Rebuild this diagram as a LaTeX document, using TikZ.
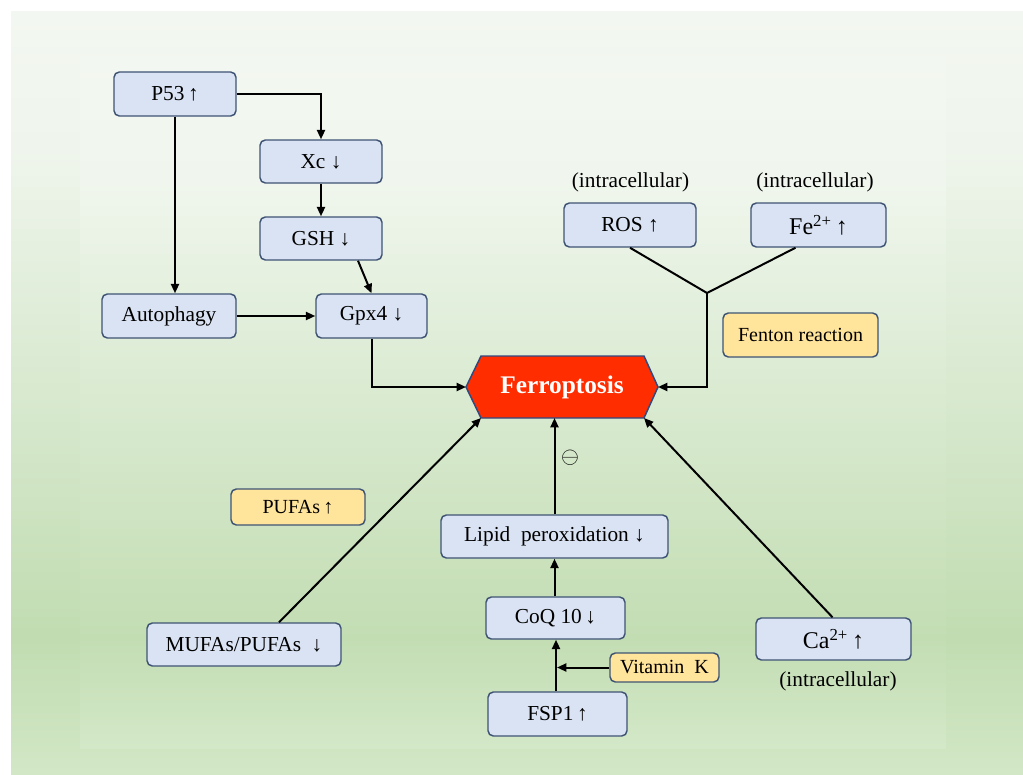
\documentclass[tikz,border=0pt]{standalone}
\usepackage{fontspec}
\setmainfont{Liberation Serif}
\usetikzlibrary{arrows.meta,calc}
\definecolor{boxfill}{HTML}{DAE3F3}
\definecolor{boxline}{HTML}{3F5475}
\definecolor{yel}{HTML}{FFE49B}
\definecolor{ferro}{HTML}{FF2D00}
\definecolor{ferroline}{HTML}{2F4A80}
\definecolor{bgA}{HTML}{D2E7C6}
\definecolor{bgB}{HTML}{C1DCB1}
\definecolor{bgC}{HTML}{D8E9CF}
\definecolor{bgD}{HTML}{EFF5EC}
\definecolor{bgE}{HTML}{F3F7F1}
\definecolor{inA}{HTML}{D3E8C8}
\definecolor{inB}{HTML}{C3DDB3}
\definecolor{inC}{HTML}{D9EAD0}
\definecolor{inD}{HTML}{F0F6ED}
\definecolor{inE}{HTML}{F3F7F1}
\pgfdeclareverticalshading{outerbg}{100bp}{color(0bp)=(bgA); color(25bp)=(bgA); color(34bp)=(bgB); color(50bp)=(bgC); color(66bp)=(bgD); color(75bp)=(bgE); color(100bp)=(bgE)}
\pgfdeclareverticalshading{innerbg}{100bp}{color(0bp)=(inA); color(25bp)=(inA); color(33bp)=(inB); color(50bp)=(inC); color(66bp)=(inD); color(75bp)=(inE); color(100bp)=(inE)}
\begin{document}
\begin{tikzpicture}[x=0.75pt,y=-0.75pt,
  box/.style={draw=boxline, line width=1.1pt, rounded corners=4pt, fill=boxfill, inner sep=0pt, font=\fontsize{16}{19}\selectfont},
  ybox/.style={box, fill=yel, font=\fontsize{15}{18}\selectfont},
  arr/.style={line width=1.5pt, -{Triangle[length=7pt,width=6pt]}},
  ln/.style={line width=1.5pt},
  lbl/.style={font=\fontsize{16}{19}\selectfont, inner sep=0pt}]
\useasboundingbox (0,0) rectangle (1023,774);
\fill[white] (0,0) rectangle (1023,774);
\shade[shading=outerbg] (11,12) rectangle (1023,774);
\shade[shading=innerbg] (80,57) rectangle (946,748);

% boxes
\node[box, minimum width=91.5pt, minimum height=33pt] (P53) at (175,94) {P53\,↑};
\node[box, minimum width=91.5pt, minimum height=32.25pt] (Xc) at (321,161.5) {Xc ↓};
\node[box, minimum width=91.5pt, minimum height=32.25pt] (GSH) at (321,238.5) {GSH ↓};
\node[box, minimum width=100.5pt, minimum height=33pt] (Auto) at (169,316) {Autophagy};
\node[box, minimum width=83.25pt, minimum height=33pt] (Gpx) at (371.5,316) {Gpx4 ↓};
\node[box, minimum width=99pt, minimum height=33pt] (ROS) at (630,225) {ROS ↑};
\node[box, minimum width=101.25pt, minimum height=33pt, font=\fontsize{18}{20}\selectfont] (Fe) at (818.5,225) {Fe\textsuperscript{2+}\,↑};
\node[ybox, minimum width=116.25pt, minimum height=33pt] (Fenton) at (800.5,335) {Fenton reaction};
\node[box, minimum width=170.25pt, minimum height=32.25pt] (Lipid) at (554.5,536.5) {Lipid\enspace peroxidation ↓};
\node[box, minimum width=104.25pt, minimum height=31.5pt] (CoQ) at (555.5,618) {CoQ 10\,↓};
\node[box, minimum width=104.25pt, minimum height=33pt] (FSP) at (557.5,714) {FSP1\,↑};
\node[ybox, minimum width=81.75pt, minimum height=21.75pt] (VitK) at (664.5,667.5) {Vitamin\enspace K};
\node[ybox, minimum width=100.5pt, minimum height=27pt] (PUFA) at (298,507) {PUFAs\,↑};
\node[box, minimum width=145.5pt, minimum height=32.25pt] (MUFA) at (244,644.5) {MUFAs/PUFAs\enspace ↓};
\node[box, minimum width=116.25pt, minimum height=31.5pt, font=\fontsize{18}{20}\selectfont] (Ca) at (833.5,639) {Ca\textsuperscript{2+}\,↑};

% labels
\node[lbl] (lROS) at (630.5,182) {(intracellular)};
\node[lbl] (lFe) at (815,182) {(intracellular)};
\node[lbl] (lCa) at (838,681) {(intracellular)};

% hexagon
\coordinate (hexL) at (466,387);
\coordinate (hexTL) at (481,356);
\coordinate (hexTR) at (644,356);
\coordinate (hexR) at (658,387);
\coordinate (hexBR) at (644,418);
\coordinate (hexBL) at (481,418);
\coordinate (hexB) at (555,418);
\filldraw[fill=ferro, draw=ferroline, line width=1.1pt] (hexL) -- (hexTL) -- (hexTR) -- (hexR) -- (hexBR) -- (hexBL) -- cycle;
\node[font=\bfseries\fontsize{19}{22}\selectfont, text=white] (ferrotext) at (562,387) {Ferroptosis};

% junction
\coordinate (J) at (707,293);

% connectors
\draw[arr] (P53.east) -| (Xc.north);
\draw[arr] (P53.south) -- (P53.south |- Auto.north);
\draw[arr] (Xc.south) -- (GSH.north);
\draw[arr] ($(GSH.south)+(37,0)$) -- (Gpx.north);
\draw[arr] (Auto.east) -- (Gpx.west);
\draw[arr] (Gpx.south) |- (hexL);
\draw[ln] (ROS.south) -- (J);
\draw[ln] ($(Fe.south)+(-23,0)$) -- (J);
\draw[arr] (J) |- (hexR);
\draw[arr] (Lipid.north) -- (Lipid.north |- hexB);
\draw[arr] (CoQ.north -| Lipid.north) -- (Lipid.south);
\draw[arr] (FSP.north -| 556,0) -- (CoQ.south -| 556,0);
\draw[arr] (VitK.west) -- (VitK.west -| 557,0);
\draw[arr] ($(MUFA.north)+(35,0)$) -- (hexBL);
\draw[arr] ($(Ca.north)+(-1,0)$) -- (hexBR);

\node[font=\fontsize{16}{19}\selectfont, inner sep=0pt] (minus) at (570,458) {$\ominus$};
\end{tikzpicture}
\end{document}
